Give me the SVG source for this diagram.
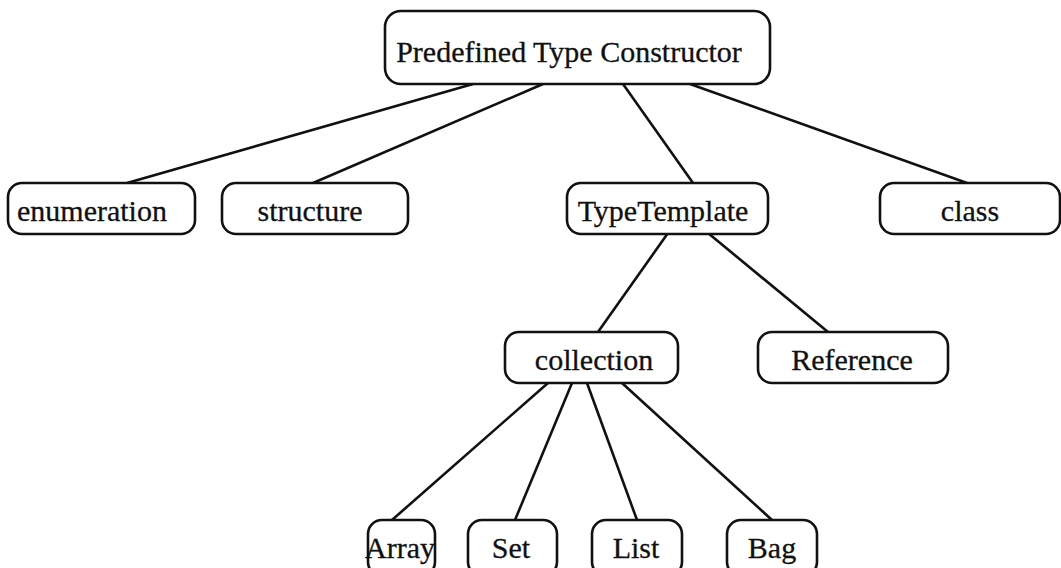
<svg xmlns="http://www.w3.org/2000/svg" width="1061" height="568" viewBox="0 0 1061 568">
  <style>
    .box { fill: #fff; stroke: #111; stroke-width: 2.6; }
    .lbl { font-family: "Liberation Serif", "Times New Roman", serif; font-size: 30px; fill: #111; stroke: #111; stroke-width: 0.3; text-anchor: middle; }
    .edge { stroke: #111; stroke-width: 2.6; fill: none; }
  </style>
  <rect width="1061" height="568" fill="#fff"/>

  <!-- connectors -->
  <g id="connectors">
    <line class="edge" x1="473" y1="84" x2="127" y2="183"/>
    <line class="edge" x1="543" y1="84" x2="313" y2="183"/>
    <line class="edge" x1="623" y1="84" x2="693" y2="183"/>
    <line class="edge" x1="690" y1="84" x2="967" y2="183"/>
    <line class="edge" x1="668" y1="233" x2="598" y2="332"/>
    <line class="edge" x1="708" y1="233" x2="828" y2="332"/>
    <line class="edge" x1="548" y1="383" x2="392" y2="520"/>
    <line class="edge" x1="572" y1="383" x2="515" y2="520"/>
    <line class="edge" x1="587" y1="383" x2="637" y2="520"/>
    <line class="edge" x1="622" y1="383" x2="772" y2="520"/>
  </g>

  <g id="predefined-type-constructor">
    <rect class="box" x="385" y="11" width="385" height="73" rx="16"/>
    <text class="lbl" x="569" y="62">Predefined Type Constructor</text>
  </g>
  <g id="enumeration">
    <rect class="box" x="8" y="183" width="187" height="51" rx="14"/>
    <text class="lbl" x="92" y="221">enumeration</text>
  </g>
  <g id="structure">
    <rect class="box" x="222" y="183" width="186" height="51" rx="14"/>
    <text class="lbl" x="310" y="221">structure</text>
  </g>
  <g id="type-template">
    <rect class="box" x="567" y="183" width="201" height="51" rx="14"/>
    <text class="lbl" x="663" y="221">TypeTemplate</text>
  </g>
  <g id="class">
    <rect class="box" x="880" y="183" width="180" height="51" rx="14"/>
    <text class="lbl" x="970" y="221">class</text>
  </g>
  <g id="collection">
    <rect class="box" x="505" y="332" width="173" height="51" rx="14"/>
    <text class="lbl" x="594" y="370">collection</text>
  </g>
  <g id="reference">
    <rect class="box" x="758" y="332" width="190" height="51" rx="14"/>
    <text class="lbl" x="852" y="370">Reference</text>
  </g>
  <g id="array">
    <rect class="box" x="368" y="520" width="67" height="56" rx="14"/>
    <text class="lbl" x="400" y="558">Array</text>
  </g>
  <g id="set">
    <rect class="box" x="468" y="520" width="89" height="56" rx="14"/>
    <text class="lbl" x="511" y="558">Set</text>
  </g>
  <g id="list">
    <rect class="box" x="592" y="520" width="90" height="56" rx="14"/>
    <text class="lbl" x="636" y="558">List</text>
  </g>
  <g id="bag">
    <rect class="box" x="727" y="520" width="90" height="56" rx="14"/>
    <text class="lbl" x="772" y="558">Bag</text>
  </g>
</svg>
